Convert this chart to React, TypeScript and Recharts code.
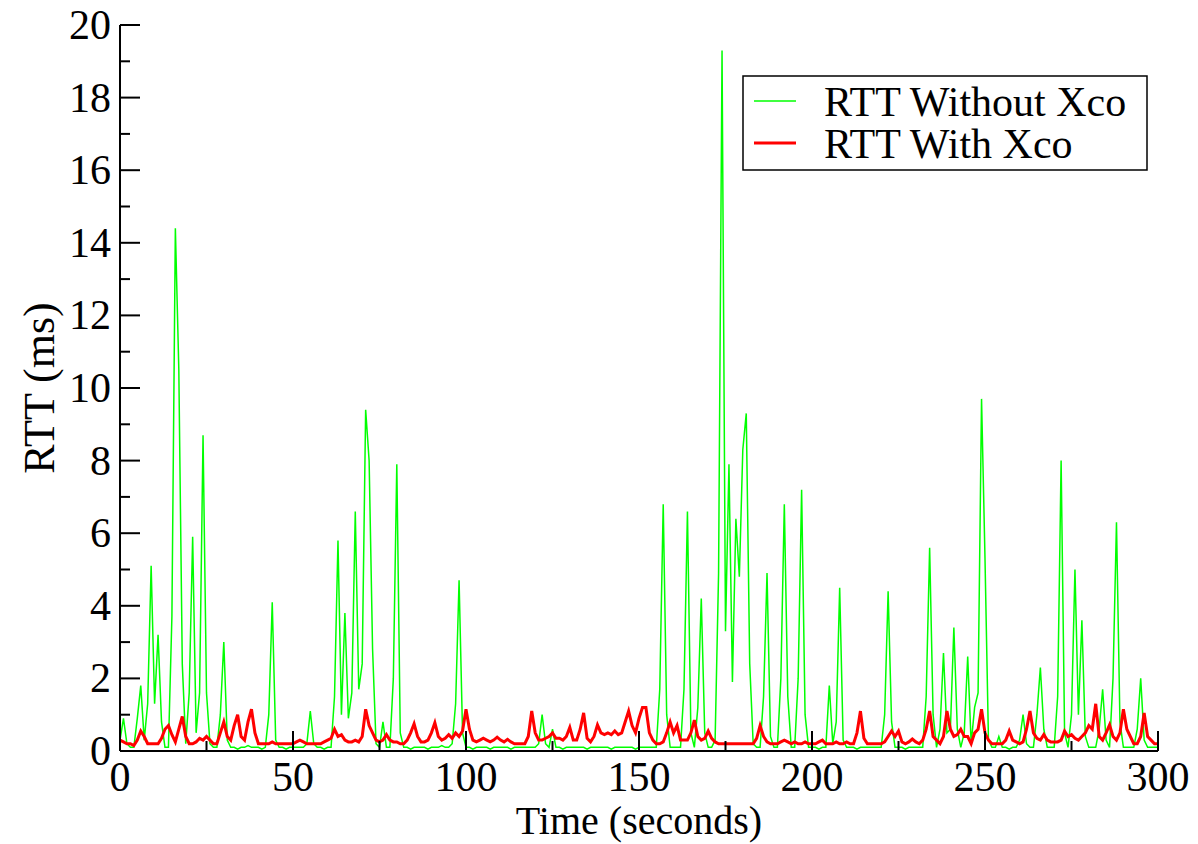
import React from 'react';
import { LineChart, Line, XAxis, YAxis, Legend, Label } from 'recharts';

// one sample per second, t = 0 .. 300
const RTT_WITHOUT_XCO = [
  0.3, 0.9, 0.2, 0.1, 0.1, 0.9, 1.8, 0.3, 1.3, 5.1,
  1.3, 3.2, 0.8, 0.1, 0.1, 3.7, 14.4, 10.5, 2.4, 0.2,
  1.6, 5.9, 0.5, 1.6, 8.7, 1.6, 0.2, 0.1, 0.1, 1.0,
  3.0, 0.3, 0.1, 0.1, 0.05, 0.1, 0.1, 0.15, 0.1, 0.1,
  0.1, 0.05, 0.1, 1.0, 4.1, 0.3, 0.1, 0.1, 0.05, 0.1,
  0.1, 0.1, 0.1, 0.1, 0.2, 1.1, 0.2, 0.1, 0.1, 0.05,
  0.1, 0.1, 1.5, 5.8, 1.0, 3.8, 0.9, 1.6, 6.6, 1.7,
  2.4, 9.4, 8.0, 2.8, 0.2, 0.1, 0.8, 0.1, 0.1, 2.0,
  7.9, 0.5, 0.1, 0.1, 0.05, 0.1, 0.1, 0.1, 0.1, 0.05,
  0.1, 0.1, 0.1, 0.15, 0.1, 0.1, 0.2, 1.3, 4.7, 0.5,
  0.1, 0.1, 0.05, 0.1, 0.1, 0.1, 0.1, 0.05, 0.1, 0.1,
  0.1, 0.1, 0.1, 0.05, 0.1, 0.1, 0.1, 0.1, 0.1, 0.1,
  0.1, 0.2, 1.0, 0.2, 0.1, 0.6, 0.1, 0.1, 0.05, 0.1,
  0.1, 0.1, 0.1, 0.1, 0.1, 0.05, 0.1, 0.1, 0.1, 0.1,
  0.1, 0.1, 0.05, 0.1, 0.1, 0.1, 0.1, 0.1, 0.1, 0.05,
  0.1, 0.1, 0.1, 0.1, 0.1, 0.1, 1.7, 6.8, 1.0, 0.1,
  0.1, 0.1, 0.1, 1.7, 6.6, 0.5, 0.1, 1.2, 4.2, 0.5,
  0.1, 0.1, 0.3, 4.9, 19.3, 3.3, 7.9, 1.9, 6.4, 4.8,
  8.3, 9.3, 2.4, 0.2, 0.1, 0.1, 1.5, 4.9, 0.4, 0.1,
  0.1, 2.0, 6.8, 1.5, 0.1, 0.1, 2.0, 7.2, 1.0, 0.1,
  0.1, 0.1, 0.05, 0.1, 0.1, 1.8, 0.2, 0.8, 4.5, 0.3,
  0.1, 0.1, 0.1, 0.05, 0.1, 0.1, 0.1, 0.1, 0.1, 0.1,
  0.1, 1.0, 4.4, 0.8, 0.1, 0.1, 0.1, 0.05, 0.1, 0.1,
  0.1, 0.1, 0.1, 1.5, 5.6, 1.0, 0.1, 0.6, 2.7, 0.5,
  0.6, 3.4, 0.6, 0.1, 0.5, 2.6, 0.2, 1.2, 1.6, 9.7,
  5.3, 0.3, 0.1, 0.1, 0.4, 0.1, 0.1, 0.05, 0.1, 0.1,
  0.3, 1.0, 0.2, 0.1, 0.1, 1.0, 2.3, 0.6, 0.1, 0.1,
  0.1, 1.5, 8.0, 0.5, 0.1, 1.0, 5.0, 1.0, 3.6, 0.4,
  0.1, 0.1, 0.1, 0.6, 1.7, 0.3, 0.1, 2.0, 6.3, 0.8,
  0.1, 0.1, 0.1, 0.1, 0.6, 2.0, 0.3, 0.1, 0.1, 0.1,
  0.1,
];

const RTT_WITH_XCO = [
  0.3, 0.25, 0.2, 0.2, 0.15, 0.3, 0.55, 0.4, 0.2, 0.2,
  0.2, 0.2, 0.35, 0.6, 0.7, 0.45, 0.25, 0.6, 0.95, 0.4,
  0.2, 0.2, 0.25, 0.35, 0.3, 0.4, 0.3, 0.2, 0.2, 0.5,
  0.8, 0.4, 0.3, 0.7, 1.0, 0.4, 0.3, 0.8, 1.15, 0.5,
  0.2, 0.2, 0.2, 0.2, 0.25, 0.2, 0.2, 0.2, 0.2, 0.2,
  0.2, 0.25, 0.3, 0.25, 0.2, 0.2, 0.2, 0.2, 0.2, 0.25,
  0.3, 0.35, 0.6, 0.4, 0.45, 0.3, 0.25, 0.25, 0.3, 0.25,
  0.4, 1.15, 0.7, 0.5, 0.3, 0.25, 0.3, 0.45, 0.3, 0.25,
  0.25, 0.2, 0.2, 0.3, 0.5, 0.75, 0.4, 0.25, 0.25, 0.3,
  0.5, 0.78, 0.4, 0.3, 0.35, 0.45, 0.35, 0.5, 0.4, 0.55,
  1.15, 0.6, 0.3, 0.25, 0.3, 0.35, 0.3, 0.25, 0.3, 0.38,
  0.3, 0.25, 0.32, 0.25, 0.2, 0.2, 0.2, 0.2, 0.4, 1.1,
  0.5, 0.3, 0.3, 0.35, 0.4, 0.5, 0.35, 0.35, 0.3, 0.4,
  0.65, 0.3, 0.3, 0.6, 1.05, 0.35, 0.25, 0.4, 0.72, 0.5,
  0.45, 0.5, 0.45, 0.55, 0.45, 0.5, 0.8, 1.1, 0.7, 0.5,
  0.9, 1.2, 1.2, 0.5, 0.3, 0.2, 0.2, 0.25, 0.5, 0.8,
  0.5, 0.7, 0.3, 0.3, 0.3, 0.5, 0.85, 0.4, 0.3, 0.35,
  0.55, 0.35, 0.25, 0.2, 0.2, 0.2, 0.2, 0.2, 0.2, 0.2,
  0.2, 0.2, 0.2, 0.2, 0.35, 0.7, 0.4, 0.25, 0.2, 0.2,
  0.2, 0.25, 0.3, 0.25, 0.2, 0.25, 0.2, 0.2, 0.25, 0.2,
  0.2, 0.2, 0.25, 0.3, 0.2, 0.2, 0.2, 0.25, 0.2, 0.2,
  0.25, 0.2, 0.2, 0.5, 1.1, 0.35, 0.2, 0.2, 0.2, 0.2,
  0.2, 0.25, 0.4, 0.55, 0.4, 0.55, 0.25, 0.2, 0.25, 0.33,
  0.25, 0.2, 0.3, 0.6, 1.1, 0.4, 0.3, 0.2, 0.4, 1.1,
  0.6, 0.4, 0.45, 0.6, 0.4, 0.4, 0.2, 0.5, 0.6, 1.15,
  0.5, 0.3, 0.2, 0.2, 0.2, 0.2, 0.3, 0.55, 0.3, 0.25,
  0.2, 0.25, 0.6, 1.1, 0.5, 0.35, 0.3, 0.45, 0.3, 0.25,
  0.25, 0.25, 0.3, 0.55, 0.4, 0.45, 0.35, 0.3, 0.4, 0.5,
  0.7, 0.6, 1.3, 0.4, 0.3, 0.5, 0.72, 0.4, 0.3, 0.5,
  1.15, 0.6, 0.4, 0.2, 0.2, 0.4, 1.05, 0.4, 0.3, 0.2,
  0.2,
];

const X_TICKS = [0, 25, 50, 75, 100, 125, 150, 175, 200, 225, 250, 275, 300];
const Y_TICKS = [0, 1, 2, 3, 4, 5, 6, 7, 8, 9, 10, 11, 12, 13, 14, 15, 16, 17, 18, 19, 20];
const SERIES = [
  { key: 'without', name: 'RTT Without Xco', color: '#00ff00', width: 1.5 },
  { key: 'with', name: 'RTT With Xco', color: '#ff0000', width: 3 },
];

const data = RTT_WITHOUT_XCO.map((v, i) => ({ time: i, without: v, with: RTT_WITH_XCO[i] }));

const FONT = "'Liberation Serif', 'Times New Roman', Tinos, 'DejaVu Serif', serif";
const INK = '#000';
const txt = (size: number) => ({ fontFamily: FONT, fontSize: size, fill: INK });

function BottomTick({ x, y, payload }: any) {
  const major = payload.value % 50 === 0;
  return (
    <g>
      <line x1={x} y1={y} x2={x} y2={y - (major ? 20 : 10)} stroke={INK} strokeWidth={2} />
      {major && (
        <text x={x} y={y + 40} textAnchor="middle" style={txt(42)}>
          {payload.value}
        </text>
      )}
    </g>
  );
}

function TopTick({ x, y, payload }: any) {
  const major = payload.value % 50 === 0;
  return <line x1={x} y1={y} x2={x} y2={y + (major ? 20 : 10)} stroke={INK} strokeWidth={2} />;
}

function LeftTick({ x, y, payload }: any) {
  const major = payload.value % 2 === 0;
  return (
    <g>
      <line x1={x} y1={y} x2={x + (major ? 20 : 10)} y2={y} stroke={INK} strokeWidth={2} />
      {major && (
        <text x={x - 9} y={y + 14} textAnchor="end" style={txt(42)}>
          {payload.value}
        </text>
      )}
    </g>
  );
}

function RightTick({ x, y, payload }: any) {
  const major = payload.value % 2 === 0;
  return <line x1={x} y1={y} x2={x - (major ? 20 : 10)} y2={y} stroke={INK} strokeWidth={2} />;
}

function LegendBox() {
  return (
    <svg width={406} height={96} style={{ display: 'block' }}>
      <rect x={1} y={1} width={404} height={94} fill="#fff" stroke={INK} strokeWidth={1.5} />
      {SERIES.map((s, i) => (
        <g key={s.key}>
          <line x1={12} x2={54} y1={26 + i * 42} y2={26 + i * 42} stroke={s.color} strokeWidth={s.width} />
          <text x={82} y={41 + i * 42} style={txt(42)}>
            {s.name}
          </text>
        </g>
      ))}
    </svg>
  );
}

export default function App() {
  return (
    <div style={{ position: 'absolute', left: 0, top: 0, background: '#fff', fontFamily: FONT }}>
      <LineChart width={1198} height={844} data={data} margin={{ top: 25, right: 40, bottom: 0, left: 20 }}>
        <XAxis
          dataKey="time"
          type="number"
          domain={[0, 300]}
          ticks={X_TICKS}
          interval={0}
          tickSize={0}
          tickMargin={0}
          tick={<BottomTick />}
          height={93}
          stroke={INK}
          strokeWidth={2}
        >
          <Label
            content={({ viewBox }: any) => (
              <text
                x={viewBox.x + viewBox.width / 2}
                y={viewBox.y + viewBox.height - 10}
                textAnchor="middle"
                style={txt(40)}
              >
                Time (seconds)
              </text>
            )}
          />
        </XAxis>
        <XAxis
          xAxisId="top"
          orientation="top"
          dataKey="time"
          type="number"
          domain={[0, 300]}
          ticks={X_TICKS}
          interval={0}
          tickSize={0}
          tickMargin={0}
          tick={<TopTick />}
          height={0}
          stroke={INK}
          strokeWidth={2}
        />
        <YAxis
          domain={[0, 20]}
          ticks={Y_TICKS}
          interval={0}
          tickSize={0}
          tickMargin={0}
          tick={<LeftTick />}
          width={100}
          stroke={INK}
          strokeWidth={2}
        >
          <Label
            content={({ viewBox }: any) => {
              const cx = viewBox.x + 34;
              const cy = viewBox.y + viewBox.height / 2;
              return (
                <text x={cx} y={cy} transform={`rotate(-90 ${cx} ${cy})`} textAnchor="middle" style={txt(44)}>
                  RTT (ms)
                </text>
              );
            }}
          />
        </YAxis>
        <YAxis
          yAxisId="right"
          orientation="right"
          domain={[0, 20]}
          ticks={Y_TICKS}
          interval={0}
          tickSize={0}
          tickMargin={0}
          tick={<RightTick />}
          width={0}
          stroke={INK}
          strokeWidth={2}
        />
        <Legend
          layout="vertical"
          align="center"
          verticalAlign="middle"
          content={() => <LegendBox />}
          wrapperStyle={{ left: 742, top: 75, width: 406, height: 96 }}
        />
        {SERIES.map((s) => (
          <Line
            key={s.key}
            type="linear"
            dataKey={s.key}
            name={s.name}
            stroke={s.color}
            strokeWidth={s.width}
            dot={false}
            activeDot={false}
            isAnimationActive={false}
          />
        ))}
      </LineChart>
    </div>
  );
}
